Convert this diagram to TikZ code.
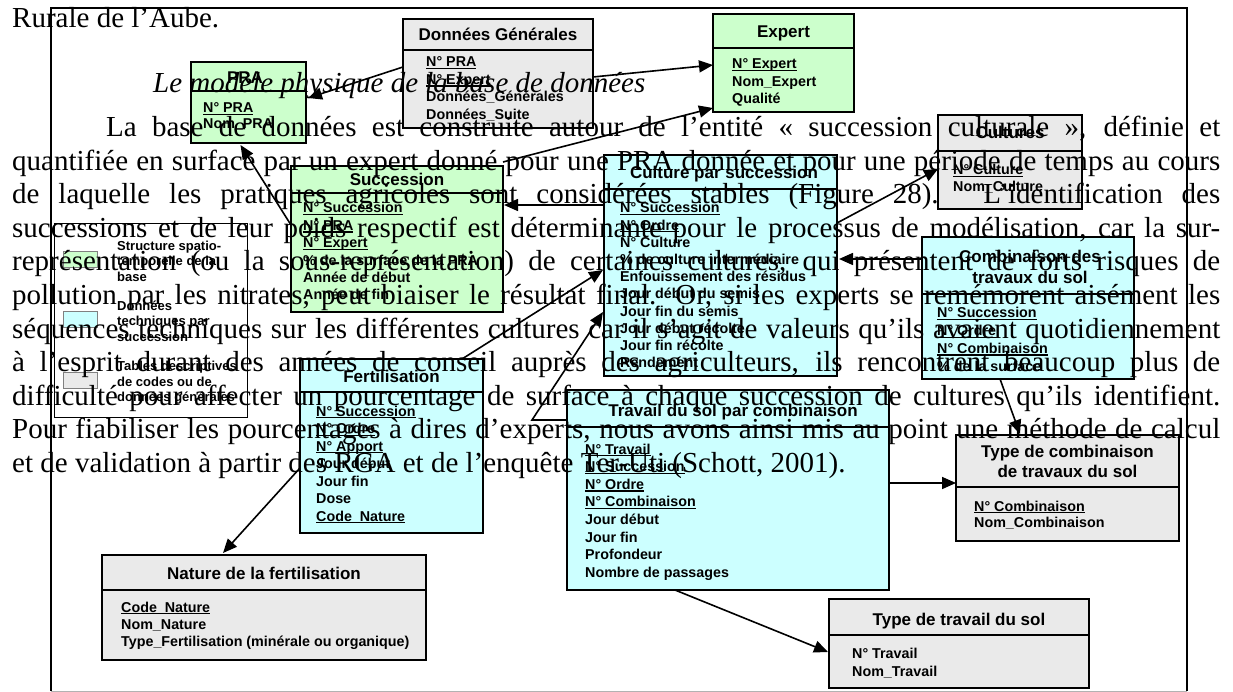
\documentclass[tikz,border=0pt]{standalone}
\usepackage{fontspec}
\setmainfont{Liberation Serif}
\setsansfont{Liberation Sans}
\usetikzlibrary{arrows.meta,calc}
\definecolor{gr}{HTML}{CCFFCC}
\definecolor{cy}{HTML}{CCFFFF}
\definecolor{lg}{HTML}{EAEAEA}
\newcommand{\ulx}[1]{\setbox0\hbox{#1}\rlap{\rule[-2.3pt]{\wd0}{1.3pt}}\box0}
\tikzset{
 box/.style={draw=black, line width=1.6pt, inner sep=0pt, outer sep=0pt},
 ttl/.style={font=\sffamily\bfseries\fontsize{17}{19}\selectfont, inner sep=0pt, anchor=base},
 fld/.style={font=\sffamily\bfseries\fontsize{14.3}{17}\selectfont, inner sep=0pt, anchor=base west},
 lgd/.style={font=\sffamily\bfseries\fontsize{13}{15}\selectfont, inner sep=0pt, anchor=base west},
 body/.style={font=\fontsize{29}{33.5}\selectfont, inner sep=0pt, anchor=base west},
 arr/.style={line width=1.6pt, -{Triangle[length=14pt,width=12pt]}},
 swatch/.style={draw=gray, line width=0.6pt, minimum width=34pt, minimum height=16pt, inner sep=0pt},
}
% name, L, T, R, B, header y, fill
\newcommand{\ebox}[7]{%
  \node[box, fill=#7, minimum width={(#4-#2)*1pt}, minimum height={(#5-#3)*1pt}] (#1) at ({(#2+#4)/2},{(#3+#5)/2}) {};
  \draw[line width=1.6pt] ($(#1.north west)+(0,#6-#3)$) -- ($(#1.north east)+(0,#6-#3)$);
}
% name, x, first baseline, step, list
\newcommand{\fields}[5]{%
  \foreach \t [count=\i] in {#5} {
    \node[fld] (#1-f\i) at (#2, {#3+(\i-1)*#4}) {\t};
  }
}
% name, x, baseline, width, text
\newcommand{\jline}[5]{%
  \node[body] (#1) at (#2,#3) {\makebox[#4pt][s]{#5}};
}
\begin{document}
\begin{tikzpicture}[x=1pt,y=-1pt]
\useasboundingbox (0,0) rectangle (1233,692);
\fill[white] (0,0) rectangle (1233,692);
% frame
\draw[line width=2pt] (51,691) -- (51,8) -- (1187,8) -- (1187,691);
\draw[line width=1pt, gray!60] (51,691) -- (1187,691);

% legend
\node[draw, line width=0.8pt, minimum width=193pt, minimum height=194pt, inner sep=0pt] (leg) at (150.5,320) {};
\node[swatch, fill=gr] (sw1) at (80,259) {};
\node[swatch, fill=cy] (sw2) at (80,319) {};
\node[swatch, fill=lg] (sw3) at (80,380.5) {};
\foreach \t [count=\i] in {Structure spatio-, temporelle de la, base}
  \node[lgd] (l1-\i) at (117,{250.5+(\i-1)*15.5}) {\t};
\foreach \t [count=\i] in {Données, techniques par, succession}
  \node[lgd] (l2-\i) at (117,{310.5+(\i-1)*15.5}) {\t};
\foreach \t [count=\i] in {Tables descriptives, de codes ou de, données générales}
  \node[lgd] (l3-\i) at (117,{370.5+(\i-1)*15.5}) {\t};

% boxes
\ebox{pra}{191}{62}{306}{143}{91}{gr}
\node[ttl] (pra-t) at (245,84) {PRA};
\fields{pra}{203}{113}{16}{\ulx{N° PRA}, Nom\_PRA}

\ebox{dg}{403}{19}{593}{128}{50}{lg}
\node[ttl] (dg-t) at (498,41) {Données Générales};
\fields{dg}{426}{67}{17.5}{\ulx{N° PRA}, \ulx{N° Expert}, Données\_Générales, Données\_Suite}

\ebox{exp}{713}{14}{854}{112}{48}{gr}
\node[ttl] (exp-t) at (783.5,38) {Expert};
\fields{exp}{732}{69}{17.5}{\ulx{N° Expert}, Nom\_Expert, Qualité}

\ebox{cult}{938}{115}{1082}{209}{151}{lg}
\node[ttl] (cult-t) at (1010,139) {Cultures};
\fields{cult}{953}{175}{16.5}{\ulx{N° Culture}, Nom\_Culture}

\ebox{succ}{291}{166}{503}{312}{193}{gr}
\node[ttl] (succ-t) at (397,186) {Succession};
\fields{succ}{303}{213}{17.4}{\ulx{N° Succession}, \ulx{N° PRA}, \ulx{N° Expert}, \% de la surface de la PRA, Année de début, Année de fin}

\ebox{cps}{604}{155}{837}{376}{189}{cy}
\node[ttl] (cps-t) at (724,179) {Culture par succession};
\fields{cps}{620}{213}{17.2}{\ulx{N° Succession}, \ulx{N° Ordre}, N° Culture, \% de culture intermédiaire, Enfouissement des résidus, Jour début du semis, Jour fin du semis, Jour début récolte, Jour fin récolte, Rendement}

\ebox{comb}{922}{237}{1134}{379}{294}{cy}
\node[ttl] (comb-t1) at (1030,263) {Combinaison des};
\node[ttl] (comb-t2) at (1030,284) {travaux du sol};
\fields{comb}{937}{318}{17.7}{\ulx{N° Succession}, \ulx{N° Ordre}, \ulx{N° Combinaison}, \% de la surface}

\ebox{fert}{300}{359}{483}{533}{392}{cy}
\node[ttl] (fert-t) at (391.5,382) {Fertilisation};
\fields{fert}{316}{416}{17.5}{\ulx{N° Succession}, \ulx{N° Ordre}, \ulx{N° Apport}, Jour début, Jour fin, Dose, \ulx{Code\_Nature}}

\ebox{trav}{567}{390}{889}{590}{427}{cy}
\node[ttl] (trav-t) at (733,416) {Travail du sol par combinaison};
\fields{trav}{585}{454}{17.6}{\ulx{N° Travail}, \ulx{N° Succession}, \ulx{N° Ordre}, \ulx{N° Combinaison}, Jour début, Jour fin, Profondeur, Nombre de passages}

\ebox{tcomb}{956}{435}{1179}{541}{487}{lg}
\node[ttl] (tcomb-t1) at (1067.5,457) {Type de combinaison};
\node[ttl] (tcomb-t2) at (1067.5,477) {de travaux du sol};
\fields{tcomb}{974}{511}{16.5}{\ulx{N° Combinaison}, Nom\_Combinaison}

\ebox{nat}{102}{555}{426}{660}{590}{lg}
\node[ttl] (nat-t) at (264,579) {Nature de la fertilisation};
\fields{nat}{121}{612}{17}{\ulx{Code\_Nature}, Nom\_Nature, Type\_Fertilisation (minérale ou organique)}

\ebox{ttrav}{829}{599}{1089}{688}{635}{lg}
\node[ttl] (ttrav-t) at (959,625) {Type de travail du sol};
\fields{ttrav}{852}{658}{18}{N° Travail, Nom\_Travail}

% connectors
\draw[arr] ($(dg.west)+(0,-6.5)$) -- ($(pra.east)+(2,-4.5)$);
\draw[arr] ($(dg.east)+(0,3.5)$) -- ($(exp.west)+(0,2)$);
\draw[arr] ($(succ.north east)+(0,-4)$) -- ($(exp.south west)+(0,-4)$);
\draw[arr] ($(succ.west)+(0,-14)$) -- ($(pra.south)+(-8,2)$);
\draw[arr] ($(cps.west)+(0,-60.5)$) -- ($(succ.east)+(1,-34)$);
\draw[arr] ($(cps.east)+(0,-42.5)$) -- ($(cult.west)+(0,7)$);
\draw[arr] ($(comb.west)+(0,-49)$) -- ($(cps.east)+(2,-6.5)$);
\draw[arr] ($(fert.north)+(70.5,0)$) -- ($(cps.west)+(-1,4.5)$);
\draw[arr] ($(trav.west)+(0,-70)$) -- ++(-35,0) -- ($(cps.west)+(-1,46.5)$);
\draw[arr] ($(fert.west)+(0,22)$) -- ($(nat.north)+(-41,-2)$);
\draw[arr] ($(trav.east)+(0,-7)$) -- ($(tcomb.west)+(0,-5)$);
\draw[arr] ($(comb.south)+(-28,0)$) -- ($(tcomb.north)+(-47.5,-1)$);
\draw[arr] ($(trav.south)+(-53,0)$) -- ($(ttrav.west)+(-1,8.5)$);

% body text
\node[body] (t1) at (12,28) {Rurale de l’Aube.};
\node[body, font=\fontsize{29}{33.5}\selectfont\itshape] (t2) at (153,93) {Le modèle physique de la base de données};
\jline{t3}{106}{137}{1114}{La base de données est construite autour de l’entité « succession culturale », définie et}
\jline{t4}{12}{170.5}{1208}{quantifiée en surface par un expert donné pour une PRA donnée et pour une période de temps au cours}
\jline{t5}{12}{204}{1208}{de laquelle les pratiques agricoles sont considérées stables (Figure 28). L’identification des}
\jline{t6}{12}{237.5}{1208}{successions et de leur poids respectif est déterminante pour le processus de modélisation, car la sur-}
\jline{t7}{12}{271}{1208}{représentation (ou la sous-représentation) de certaines cultures, qui présentent de forts risques de}
\jline{t8}{12}{304.5}{1208}{pollution par les nitrates, peut biaiser le résultat final. Or, si les experts se remémorent aisément les}
\jline{t9}{12}{338}{1208}{séquences techniques sur les différentes cultures car il s’agit de valeurs qu’ils avaient quotidiennement}
\jline{t10}{12}{371.5}{1208}{à l’esprit durant des années de conseil auprès des agriculteurs, ils rencontrent beaucoup plus de}
\jline{t11}{12}{405}{1208}{difficulté pour affecter un pourcentage de surface à chaque succession de cultures qu’ils identifient.}
\jline{t12}{12}{438.5}{1208}{Pour fiabiliser les pourcentages à dires d’experts, nous avons ainsi mis au point une méthode de calcul}
\node[body] (t13) at (12,472) {et de validation à partir des RGA et de l’enquête Ter-Uti (Schott, 2001).};
\end{tikzpicture}
\end{document}
